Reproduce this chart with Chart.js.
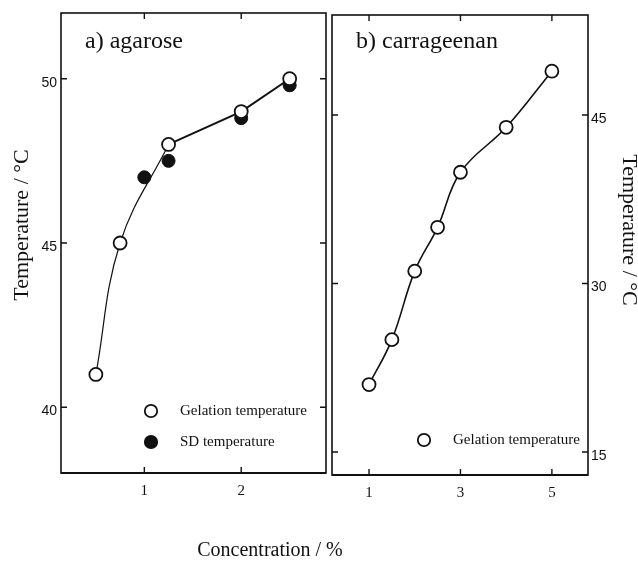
<!DOCTYPE html>
<html><head><meta charset="utf-8">
<script src="https://cdn.jsdelivr.net/npm/chart.js@4.4.1/dist/chart.umd.min.js"></script>
<style>
html,body{margin:0;padding:0;background:#fff;}
#wrap{position:relative;width:638px;height:567px;overflow:hidden;background:#fff;}
canvas{position:absolute;left:0;top:0;}
</style></head><body>
<div id="wrap"><canvas id="c1" width="638" height="567"></canvas><canvas id="c2" width="638" height="567"></canvas></div>
<script>
// ---- data ----
const agaroseConc = [0.5, 0.75, 1.25, 2, 2.5];
const agaroseGelation = [41.0, 45.0, 48.0, 49.0, 50.0];
const agaroseSDConc = [1, 1.25, 2, 2.5];
const agaroseSD = [47.0, 47.5, 48.8, 49.8];
const agaroseXTicks = [1, 2];
const agaroseYTicks = [40, 45, 50];
const carrConc = [1, 1.5, 2, 2.5, 3, 4, 5];
const carrGelation = [21.0, 25.0, 31.1, 35.0, 39.9, 43.9, 48.9];
const carrXTicks = [1, 3, 5];
const carrYTicks = [15, 30, 45];
const seriesNames = ['Gelation temperature', 'SD temperature'];
const panelTitles = ['a) agarose', 'b) carrageenan'];
const xTitle = 'Concentration / %';
const yTitle = 'Temperature / °C';

const pts = (xs, ys) => xs.map((x, i) => ({x: x, y: ys[i]}));
const INK = '#111';
const SERIF = '"Liberation Serif", "Times New Roman", serif';
const SANS = '"Liberation Sans", Arial, sans-serif';

const panelPlugin = {
  id: 'panel',
  beforeDatasetsDraw(chart, args, opts) {
    const {ctx, chartArea: a, scales: {x, y}} = chart;
    ctx.save();
    ctx.strokeStyle = INK;
    ctx.lineWidth = 1.6;
    ctx.strokeRect(a.left, a.top, a.right - a.left, a.bottom - a.top);
    ctx.lineWidth = 2.2;
    ctx.beginPath(); ctx.moveTo(a.left, a.bottom); ctx.lineTo(a.right, a.bottom); ctx.stroke();
    ctx.lineWidth = 1.4;
    const L = 6;
    y.ticks.forEach(t => {
      const p = y.getPixelForValue(t.value);
      ctx.beginPath();
      ctx.moveTo(a.left, p); ctx.lineTo(a.left + L, p);
      ctx.moveTo(a.right - L, p); ctx.lineTo(a.right, p);
      ctx.stroke();
    });
    x.ticks.forEach(t => {
      const p = x.getPixelForValue(t.value);
      ctx.beginPath();
      ctx.moveTo(p, a.bottom); ctx.lineTo(p, a.bottom - L);
      ctx.moveTo(p, a.top); ctx.lineTo(p, a.top + L);
      ctx.stroke();
    });
    ctx.restore();
  },
  afterDraw(chart, args, opts) {
    const {ctx} = chart;
    ctx.save();
    ctx.fillStyle = INK;
    (opts.texts || []).forEach(t => {
      ctx.save();
      ctx.font = t.font;
      ctx.textAlign = t.align || 'left';
      ctx.textBaseline = t.baseline || 'alphabetic';
      ctx.translate(t.x, t.y);
      if (t.rot) ctx.rotate(t.rot);
      ctx.fillText(t.text, 0, 0);
      ctx.restore();
    });
    (opts.legend || []).forEach(item => {
      const ds = chart.data.datasets[item.dataset];
      ctx.beginPath();
      ctx.arc(item.x, item.y, 6.2, 0, Math.PI * 2);
      ctx.fillStyle = ds.pointBackgroundColor;
      ctx.fill();
      ctx.lineWidth = 1.8;
      ctx.strokeStyle = ds.pointBorderColor;
      ctx.stroke();
      ctx.fillStyle = INK;
      ctx.font = '15px ' + SERIF;
      ctx.textAlign = 'left';
      ctx.textBaseline = 'middle';
      ctx.fillText(ds.label, item.x + 29, item.y);
    });
    ctx.restore();
  }
};

function axisX(min, max, ticksArr, height) {
  return {
    type: 'linear', position: 'bottom', min: min, max: max,
    afterBuildTicks: s => { s.ticks = ticksArr.map(v => ({value: v})); },
    afterFit: s => { s.height = height; },
    grid: {display: false, drawTicks: false}, border: {display: false},
    ticks: {color: INK, font: {family: SERIF, size: 15}, padding: 9}
  };
}
function axisY(min, max, ticksArr, pos, width, pad) {
  return {
    type: 'linear', position: pos, min: min, max: max,
    afterBuildTicks: s => { s.ticks = ticksArr.map(v => ({value: v})); },
    afterFit: s => { s.width = width; },
    grid: {display: false, drawTicks: false}, border: {display: false},
    ticks: {color: INK, font: {family: SANS, size: 14}, padding: pad, labelOffset: 4}
  };
}

const common = {
  responsive: false, animation: false, devicePixelRatio: 1,
  plugins: {legend: {display: false}, tooltip: {enabled: false}}
};

new Chart(document.getElementById('c1'), {
  type: 'scatter',
  data: {datasets: [
    {label: seriesNames[0], data: pts(agaroseConc, agaroseGelation), order: 0,
     pointRadius: 6.5, pointBackgroundColor: '#fff', pointBorderColor: INK, pointBorderWidth: 1.8},
    {label: seriesNames[1], data: pts(agaroseSDConc, agaroseSD), order: 1,
     pointRadius: 6.5, pointBackgroundColor: INK, pointBorderColor: INK, pointBorderWidth: 1},
    {label: 'fit-low', data: pts(agaroseConc.slice(0, 3), agaroseGelation.slice(0, 3)), order: 2,
     showLine: true, pointRadius: 0, borderColor: INK, borderWidth: 1.2, tension: 0.4},
    {label: 'fit-high', data: pts(agaroseConc.slice(2), agaroseGelation.slice(2)), order: 3,
     showLine: true, pointRadius: 0, borderColor: INK, borderWidth: 2, tension: 0}
  ]},
  options: Object.assign({}, common, {
    layout: {padding: {left: 0, top: 13, right: 312, bottom: 64}},
    scales: {x: axisX(0.14, 2.875, agaroseXTicks, 30), y: axisY(38, 52, agaroseYTicks, 'left', 61, 4)},
    plugins: Object.assign({}, common.plugins, {panel: {
      texts: [
        {text: panelTitles[0], x: 85, y: 48, font: '24px ' + SERIF},
        {text: yTitle, x: 22, y: 225, font: '22px ' + SERIF, align: 'center', baseline: 'middle', rot: -Math.PI / 2},
        {text: xTitle, x: 270, y: 551, font: '20px ' + SERIF, align: 'center', baseline: 'middle'}
      ],
      legend: [{dataset: 0, x: 151, y: 411}, {dataset: 1, x: 151, y: 442}]
    }})
  }),
  plugins: [panelPlugin]
});

new Chart(document.getElementById('c2'), {
  type: 'scatter',
  data: {datasets: [
    {label: seriesNames[0], data: pts(carrConc, carrGelation), order: 0,
     pointRadius: 6.5, pointBackgroundColor: '#fff', pointBorderColor: INK, pointBorderWidth: 1.8},
    {label: 'fit', data: pts(carrConc, carrGelation), order: 1,
     showLine: true, pointRadius: 0, borderColor: INK, borderWidth: 1.6, tension: 0.4}
  ]},
  options: Object.assign({}, common, {
    layout: {padding: {left: 332, top: 15, right: 0, bottom: 62}},
    scales: {x: axisX(0.19, 5.79, carrXTicks, 30), y: axisY(12.95, 53.9, carrYTicks, 'right', 50, 3)},
    plugins: Object.assign({}, common.plugins, {panel: {
      texts: [
        {text: panelTitles[1], x: 356, y: 48, font: '24px ' + SERIF},
        {text: yTitle, x: 629, y: 230, font: '22px ' + SERIF, align: 'center', baseline: 'middle', rot: Math.PI / 2}
      ],
      legend: [{dataset: 0, x: 424, y: 440}]
    }})
  }),
  plugins: [panelPlugin]
});
</script>
</body></html>
